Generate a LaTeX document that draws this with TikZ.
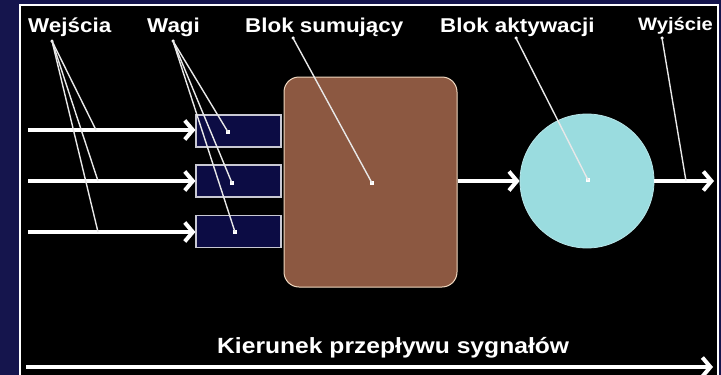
\documentclass[tikz,border=0pt]{standalone}
\usepackage{fontspec}
\setmainfont{Liberation Sans}[FakeStretch=1.12]
\usetikzlibrary{arrows.meta}
\definecolor{navy}{HTML}{15154D}
\definecolor{boxnavy}{HTML}{0C0C44}
\definecolor{boxedge}{HTML}{C8C8D2}
\definecolor{sumbrown}{HTML}{8C5841}
\definecolor{sumedge}{HTML}{F0D8C0}
\definecolor{actcyan}{HTML}{9ADCDF}
\definecolor{leader}{HTML}{E8E8E8}
\tikzset{
  heading/.style={anchor=base west, inner sep=0pt, text=white,
    font=\bfseries\fontsize{20}{20}\selectfont},
  smallheading/.style={heading, font=\bfseries\fontsize{18}{18}\selectfont},
  flow/.style={draw=white, line width=4.5pt,
    -{Straight Barb[length=8pt, width=19pt, line width=4pt]}},
  weightbox/.style={draw=boxedge, fill=boxnavy, line width=1.2pt,
    minimum width=85pt, minimum height=32pt, inner sep=0pt},
  sumblock/.style={draw=sumedge, fill=sumbrown, line width=1pt,
    rounded corners=15pt, minimum width=173pt, minimum height=210pt, inner sep=0pt},
  actblock/.style={circle, draw=actcyan!70!white, fill=actcyan, line width=0.8pt,
    minimum size=134pt, inner sep=0pt},
  pointer/.style={draw=leader, line width=1.4pt},
  tipdot/.style={fill=white, inner sep=0pt, minimum size=4pt},
}
\begin{document}
\begin{tikzpicture}[x=1pt, y=-1pt]
  % frame
  \useasboundingbox (0,0) rectangle (721,375);
  \fill[navy] (0,0) rectangle (721,375);
  \fill[black] (20,5) rectangle (718,380);
  \draw[white, line width=1.5pt] (20,380) -- (20,5) -- (718,5) -- (718,380);

  % blocks
  \node[weightbox] (w1) at (238.5,131) {};
  \node[weightbox] (w2) at (238.5,181) {};
  \node[weightbox] (w3) at (238.5,231.5) {};
  \node[sumblock] (sum) at (370.5,182) {};
  \node[actblock] (act) at (587,181) {};

  % signal paths
  \coordinate (in1) at (28,130);
  \coordinate (in2) at (28,181);
  \coordinate (in3) at (28,232);
  \coordinate (out) at (714,181);
  \draw[flow] (in1) -- (w1.west |- in1);
  \draw[flow] (in2) -- (w2.west |- in2);
  \draw[flow] (in3) -- (w3.west |- in3);
  \draw[flow] (sum.east |- act) -- (act.west);
  \draw[flow] (act.east) -- (out);

  % headings
  \node[heading] (tin) at (28,32) {Wejścia};
  \node[heading] (tw) at (147,32) {Wagi};
  \node[heading] (tsum) at (245,32) {Blok sumujący};
  \node[heading] (tact) at (440,32) {Blok aktywacji};
  \node[smallheading] (tout) at (638,30) {Wyjście};

  % pointer anchors
  \node[tipdot, circle, minimum size=3.5pt] (pin) at (52,41) {};
  \node[tipdot, circle, minimum size=3.5pt] (pw) at (173,41) {};
  \node[tipdot, circle, minimum size=3.5pt] (psum) at (293,38) {};
  \node[tipdot, circle, minimum size=3.5pt] (pact) at (516,38) {};
  \node[tipdot, circle, minimum size=3.5pt] (pout) at (662,38) {};
  \coordinate (a1) at (96,130);
  \coordinate (a2) at (98,181);
  \coordinate (a3) at (98,232);
  \node[tipdot] (d1) at (228,132) {};
  \node[tipdot] (d2) at (232,183) {};
  \node[tipdot] (d3) at (235,232) {};
  \node[tipdot] (dsum) at (372,183) {};
  \node[tipdot] (dact) at (588,180) {};
  \coordinate (dout) at (686,181);

  % pointers
  \draw[pointer] (pin.center) -- (a1);
  \draw[pointer] (pin.center) -- (a2);
  \draw[pointer] (pin.center) -- (a3);
  \draw[pointer] (pw.center) -- (d1.center);
  \draw[pointer] (pw.center) -- (d2.center);
  \draw[pointer] (pw.center) -- (d3.center);
  \draw[pointer] (psum.center) -- (dsum.center);
  \draw[pointer] (pact.center) -- (dact.center);
  \draw[pointer] (pout.center) -- (dout);

  % direction of signal flow
  \node[heading, font=\bfseries\fontsize{22}{22}\selectfont] (dir) at (217,353)
    {Kierunek przepływu sygnałów};
  \coordinate (dstart) at (26,367);
  \coordinate (dend) at (713,367);
  \draw[flow] (dstart) -- (dend);
\end{tikzpicture}
\end{document}
